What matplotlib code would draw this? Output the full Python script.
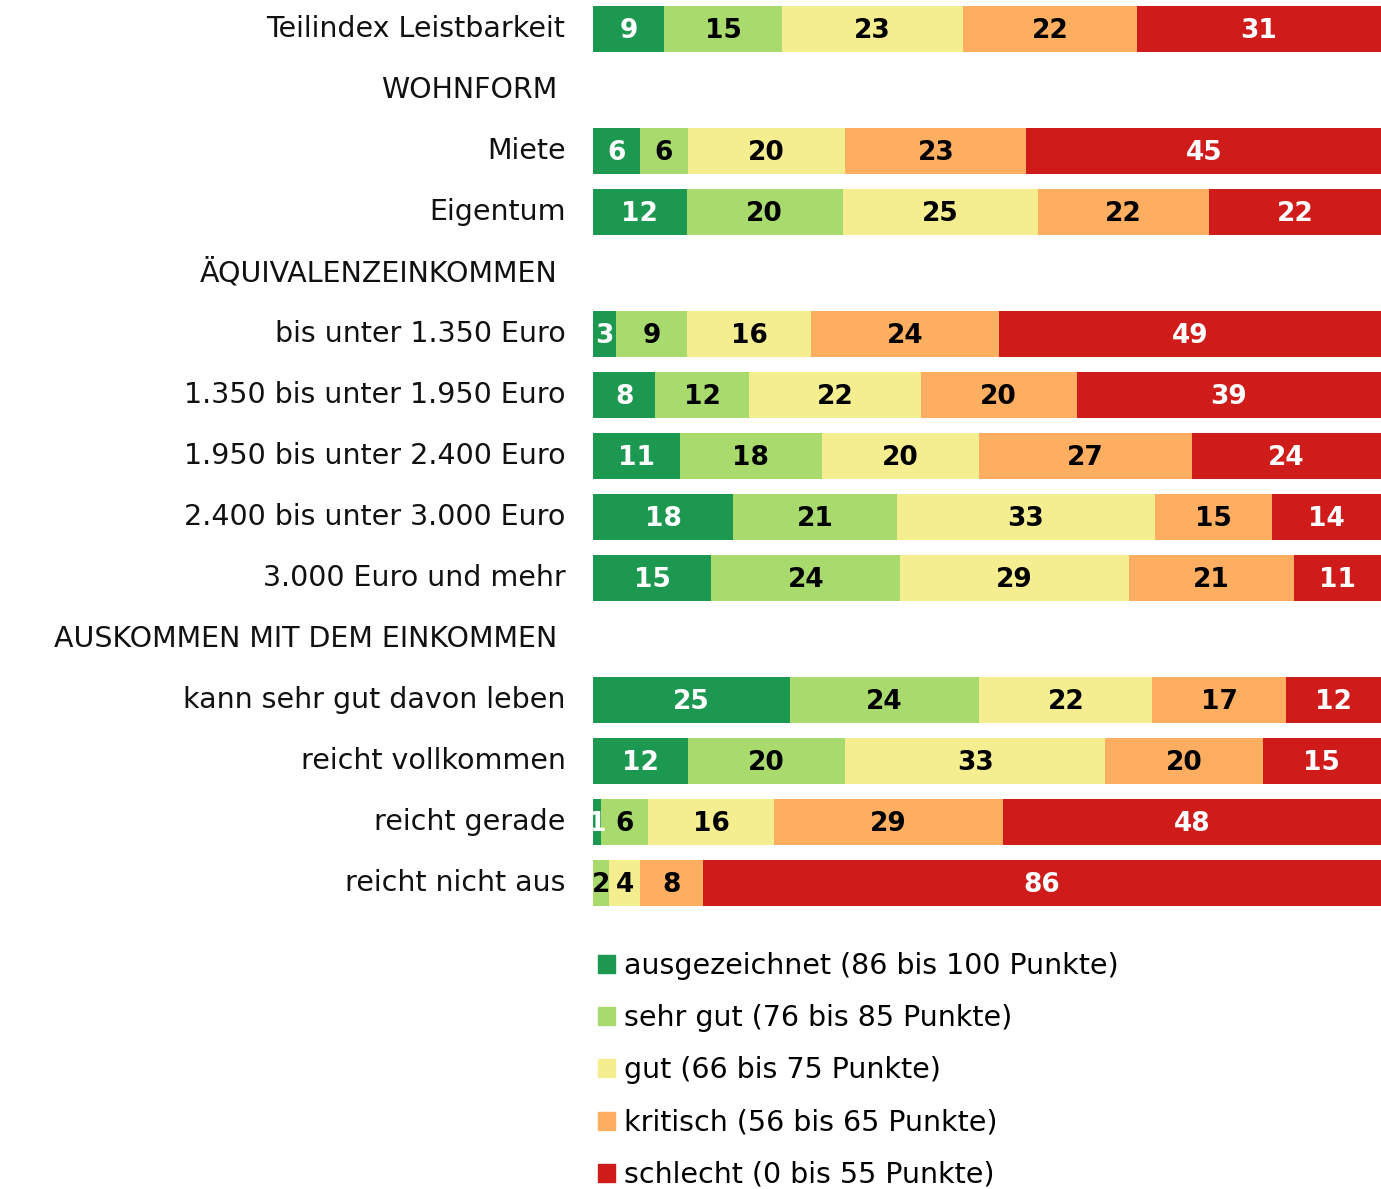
import matplotlib.pyplot as plt
import matplotlib.patches as mpatches
import numpy as np

plt.rcParams['font.family'] = ['DejaVu Sans']

# row labels; headers are rows without bars
rows = ['Teilindex Leistbarkeit', 'WOHNFORM', 'Miete', 'Eigentum',
        'ÄQUIVALENZEINKOMMEN', 'bis unter 1.350 Euro', '1.350 bis unter 1.950 Euro',
        '1.950 bis unter 2.400 Euro', '2.400 bis unter 3.000 Euro', '3.000 Euro und mehr',
        'AUSKOMMEN MIT DEM EINKOMMEN', 'kann sehr gut davon leben', 'reicht vollkommen',
        'reicht gerade', 'reicht nicht aus']
headers = ['WOHNFORM', 'ÄQUIVALENZEINKOMMEN', 'AUSKOMMEN MIT DEM EINKOMMEN']

vals = {
    'Teilindex Leistbarkeit': [9, 15, 23, 22, 31],
    'Miete': [6, 6, 20, 23, 45],
    'Eigentum': [12, 20, 25, 22, 22],
    'bis unter 1.350 Euro': [3, 9, 16, 24, 49],
    '1.350 bis unter 1.950 Euro': [8, 12, 22, 20, 39],
    '1.950 bis unter 2.400 Euro': [11, 18, 20, 27, 24],
    '2.400 bis unter 3.000 Euro': [18, 21, 33, 15, 14],
    '3.000 Euro und mehr': [15, 24, 29, 21, 11],
    'kann sehr gut davon leben': [25, 24, 22, 17, 12],
    'reicht vollkommen': [12, 20, 33, 20, 15],
    'reicht gerade': [1, 6, 16, 29, 48],
    'reicht nicht aus': [0, 2, 4, 8, 86],
}

series = ['ausgezeichnet (86 bis 100 Punkte)', 'sehr gut (76 bis 85 Punkte)',
          'gut (66 bis 75 Punkte)', 'kritisch (56 bis 65 Punkte)',
          'schlecht (0 bis 55 Punkte)']
colors = ['#1d9850', '#a9da6d', '#f5ee91', '#fdae61', '#d01b1b']
text_colors = ['white', 'black', 'black', 'black', 'white']

fig = plt.figure(figsize=(13.81, 11.89), dpi=100)
ax = fig.add_axes([593 / 1381, 1 - 920 / 1189, 788 / 1381, 920 / 1189])

for i, r in enumerate(rows):
    if r in headers:
        ax.text(-0.0448, i, r, transform=ax.get_yaxis_transform(), ha='right',
                va='center', fontsize=20.5, color='#111111')
        continue
    ax.text(-0.035, i, r, transform=ax.get_yaxis_transform(), ha='right',
            va='center', fontsize=20.5, color='#111111')
    v = np.array(vals[r], dtype=float)
    share = v / v.sum() * 100
    left = 0
    for k in range(5):
        ax.barh(i, share[k], left=left, height=0.76, color=colors[k])
        if v[k] > 0:
            ax.text(left + share[k] / 2, i + 0.03, str(int(v[k])), ha='center', va='center',
                    fontsize=19, fontweight='bold', color=text_colors[k])
        left += share[k]

ax.set_xlim(0, 100)
ax.set_ylim(14.61, -0.475)
ax.axis('off')

handles = [mpatches.Patch(color=c) for c in colors]
fig.legend(handles, series, loc='upper left', bbox_to_anchor=(598 / 1381, 1 - 952 / 1189),
           frameon=False, fontsize=20.5, handlelength=0.6, handleheight=0.6,
           handletextpad=0.3, labelspacing=0.85, borderaxespad=0, borderpad=0)

fig.savefig('out.png', dpi=100)
